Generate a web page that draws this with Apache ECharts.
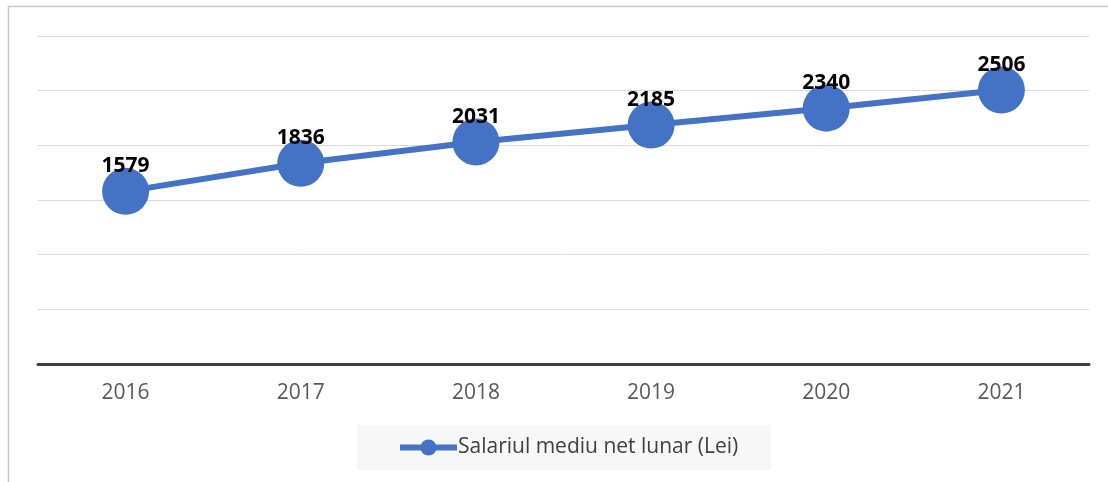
<!DOCTYPE html>
<html>
<head>
<meta charset="utf-8">
<script src="https://cdn.jsdelivr.net/npm/echarts@6/dist/echarts.min.js"></script>
<style>
  html, body { margin: 0; padding: 0; background: #fff; }
  #chart { width: 1108px; height: 482px; }
</style>
</head>
<body>
<div id="chart"></div>
<script>
// date
const years = ['2016', '2017', '2018', '2019', '2020', '2021']
const salariu = [1579, 1836, 2031, 2185, 2340, 2506]
const seriesName = 'Salariul mediu net lunar (Lei)'

const chart = echarts.init(document.getElementById('chart'))
const font = '"Open Sans", "Noto Sans", sans-serif'

chart.setOption({
  animation: false,
  textStyle: { fontFamily: font },
  graphic: [{
    type: 'rect',
    silent: true,
    z: -10,
    shape: { x: 8.5, y: 6.5, width: 1120, height: 500 },
    style: { fill: 'none', stroke: '#c8c8c8', lineWidth: 1.5 }
  }],
  grid: { left: 38, right: 19, top: 36, bottom: 118 },
  legend: {
    data: [seriesName],
    left: 357,
    top: 425,
    padding: [11, 33, 11, 40],
    backgroundColor: '#f7f7f7',
    itemWidth: 57,
    itemHeight: 20,
    itemGap: 0,
    lineStyle: { width: 6 },
    textStyle: { color: '#404040', fontSize: 21, lineHeight: 23, fontFamily: font, padding: [0, 0, 0, -4] }
  },
  xAxis: {
    type: 'category',
    data: years,
    boundaryGap: true,
    axisLine: { lineStyle: { color: '#404040', width: 3 } },
    axisTick: { show: false },
    axisLabel: { color: '#595959', fontSize: 21, margin: 19, fontFamily: font }
  },
  yAxis: {
    type: 'value',
    min: 0,
    max: 3000,
    interval: 500,
    axisLabel: { show: false },
    axisLine: { show: false },
    axisTick: { show: false },
    splitLine: { lineStyle: { color: '#d9d9d9', width: 1 } }
  },
  series: [{
    name: seriesName,
    type: 'line',
    data: salariu,
    symbol: 'circle',
    symbolSize: 47,
    itemStyle: { color: '#4472C4' },
    lineStyle: { color: '#4472C4', width: 6 },
    label: {
      show: true,
      position: 'inside',
      offset: [0, -25],
      color: '#000',
      fontWeight: 'bold',
      fontSize: 21,
      fontFamily: font
    }
  }]
})
</script>
</body>
</html>
